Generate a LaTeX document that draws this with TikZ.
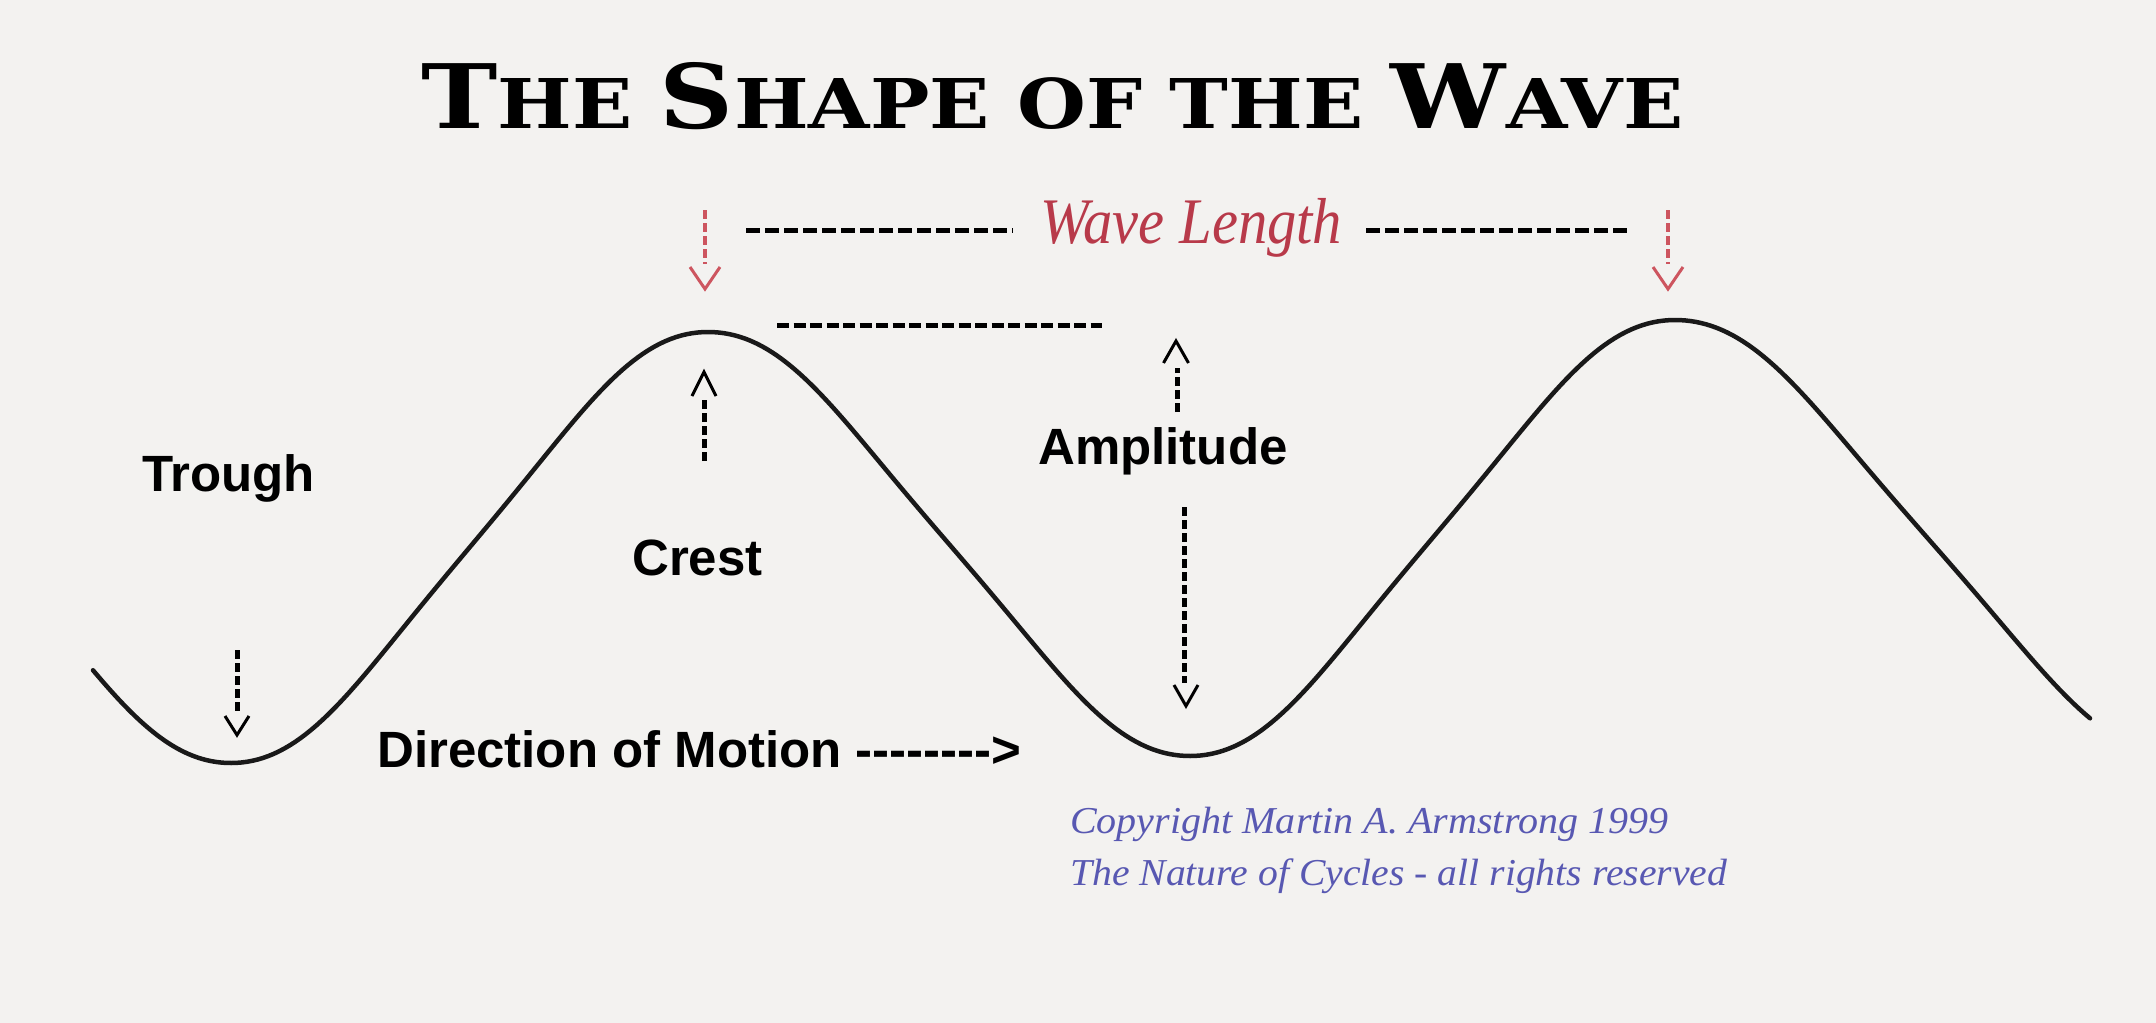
\documentclass[tikz,border=0pt]{standalone}
\usepackage{fontspec}
\setmainfont{Liberation Serif}
\newfontfamily\labelfont{Liberation Sans}
\newfontfamily\titlefont{DejaVu Serif}
\definecolor{bgc}{RGB}{243,242,240}
\definecolor{wlred}{RGB}{184,58,74}
\definecolor{wlarrow}{RGB}{205,85,95}
\definecolor{cpblue}{RGB}{88,88,178}
\newcommand\Bg{\fontsize{89}{100}\selectfont}
\newcommand\Sm{\fontsize{68.6}{80}\selectfont}
\newcommand\hy{-\kern0pt }
\begin{document}
\begin{tikzpicture}[x=1pt,y=-1pt,
  declare function={ws(\t)=(1-cos(180*\t))/2+0.02*(sin(360*\t)-0.5*sin(720*\t));},
  lbl/.style={anchor=base west, inner sep=0pt, font={\labelfont\bfseries\fontsize{51}{60}\selectfont}},
  txt/.style={anchor=base west, inner sep=0pt},
  wave/.style={line width=4.5pt, line cap=round, line join=round, black!90},
  hdash/.style={line width=5pt, dash pattern=on 14pt off 5pt},
  cdash/.style={line width=5pt, dash pattern=on 12pt off 4.5pt},
  vdash/.style={line width=5pt, dash pattern=on 9pt off 4pt},
  rdash/.style={line width=4.5pt, dash pattern=on 9pt off 4pt, wlarrow},
  chev/.style={line width=3pt, line join=miter}]
\fill[bgc] (0,0) rectangle (2156,1023);
\useasboundingbox (0,0) rectangle (2156,1023);

% title
\node[txt] (title) at (421,128) {\resizebox{1262pt}{\height}{\titlefont\bfseries\Sm{\Bg T}HE {\Bg S}HAPE OF THE {\Bg W}AVE}};

% wave length
\node[txt, text=wlred] (wl) at (1040,243) {\resizebox{302pt}{\height}{\itshape\fontsize{65}{70}\selectfont Wave Length}};
\coordinate (wlL1) at (746,230);
\coordinate (wlL2) at (1013,230);
\coordinate (wlR1) at (1366,230);
\coordinate (wlR2) at (1631,230);
\draw[hdash] (wlL1) -- (wlL2);
\draw[hdash] (wlR1) -- (wlR2);

% red arrows
\coordinate (ra1) at (705,210);
\coordinate (ra2) at (705,264);
\coordinate (rt) at (705,289);
\draw[rdash] (ra1) -- (ra2);
\draw[chev, wlarrow] (rt) ++(-15,-22) -- (rt) -- ++(15,-22);
\coordinate (rb1) at (1668,210);
\coordinate (rb2) at (1668,264);
\coordinate (rbt) at (1668,289);
\draw[rdash] (rb1) -- (rb2);
\draw[chev, wlarrow] (rbt) ++(-15,-22) -- (rbt) -- ++(15,-22);

% crest dashed line
\coordinate (cd1) at (777,325);
\coordinate (cd2) at (1102,325);
\draw[cdash] (cd1) -- (cd2);

% wave (piecewise sinusoid)
\draw[wave]
  plot[domain=93:231, samples=40] (\x,{332+431*ws((\x+248)/479)})
  -- plot[domain=231:708, samples=90] (\x,{763-431*ws((\x-231)/477)})
  -- plot[domain=708:1190, samples=90] (\x,{332+424*ws((\x-708)/482)})
  -- plot[domain=1190:1675, samples=90] (\x,{756-436*ws((\x-1190)/485)})
  -- plot[domain=1675:2090, samples=80] (\x,{320+436*ws((\x-1675)/505)});

% labels
\node[lbl] (trough) at (142,491) {Trough};
\node[lbl] (crest) at (632,575) {Crest};
\node[lbl] (amp) at (1038,464) {Amplitude};
\node[lbl] (dir) at (377,767) {Direction of Motion \hy\hy\hy\hy\hy\hy\hy\hy>};

% crest arrow
\coordinate (ca1) at (704,461);
\coordinate (ca2) at (704,398);
\coordinate (ct) at (704,372);
\draw[vdash] (ca1) -- (ca2);
\draw[chev] (ct) ++(-12,24) -- (ct) -- ++(12,24);

% amplitude arrows
\coordinate (au1) at (1177,412);
\coordinate (au2) at (1177,368);
\coordinate (aut) at (1176,341);
\draw[vdash] (au1) -- (au2);
\draw[chev] (aut) ++(-12.5,22) -- (aut) -- ++(12.5,22);
\coordinate (ad1) at (1184,507);
\coordinate (ad2) at (1184,683);
\coordinate (adt) at (1186,706);
\draw[vdash] (ad1) -- (ad2);
\draw[chev] (adt) ++(-12,-21) -- (adt) -- ++(12,-21);

% trough arrow
\coordinate (ta1) at (237,650);
\coordinate (ta2) at (237,712);
\coordinate (tt) at (237,735);
\draw[vdash] (ta1) -- (ta2);
\draw[chev] (tt) ++(-12,-19) -- (tt) -- ++(12,-19);

% copyright
\node[txt, text=cpblue] (cp1) at (1070,833) {\resizebox{598pt}{\height}{\itshape\fontsize{38}{40}\selectfont Copyright Martin A. Armstrong 1999}};
\node[txt, text=cpblue] (cp2) at (1070,885) {\resizebox{657pt}{\height}{\itshape\fontsize{38}{40}\selectfont The Nature of Cycles - all rights reserved}};
\end{tikzpicture}
\end{document}
